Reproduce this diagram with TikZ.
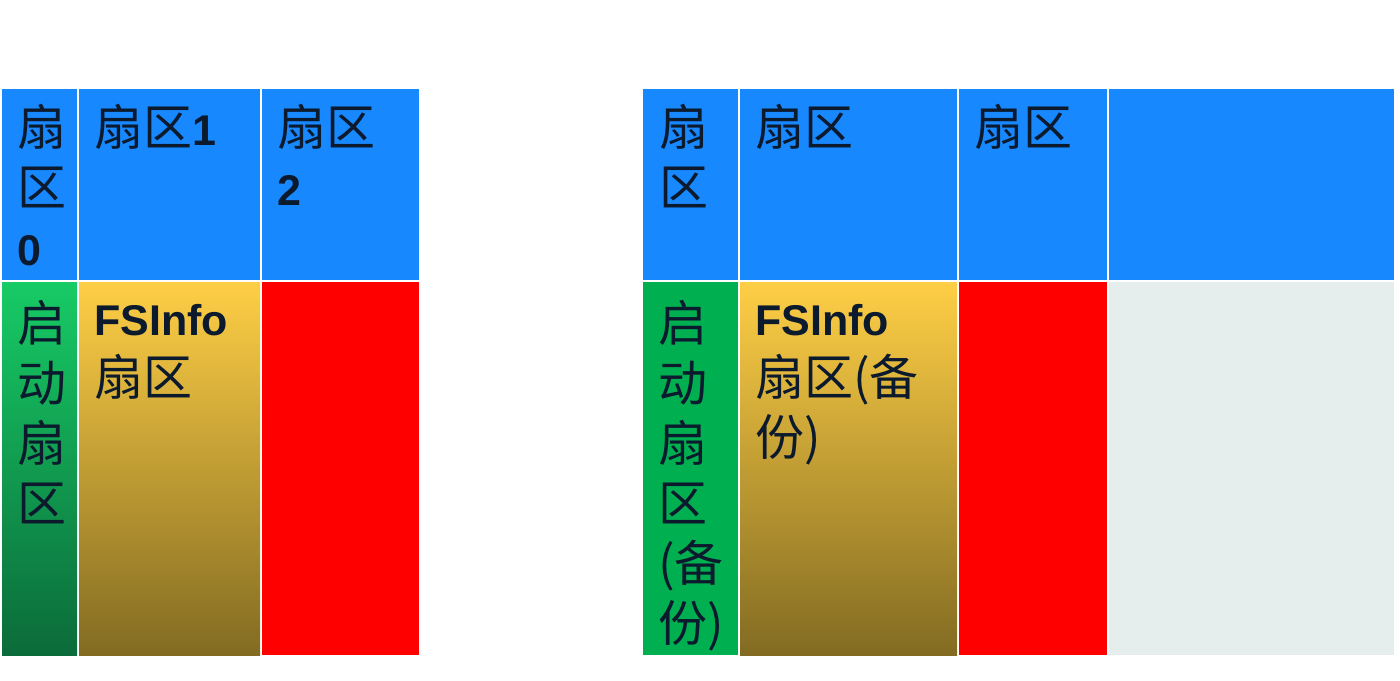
\documentclass[tikz,border=0pt]{standalone}
\usepackage{fontspec}
\setmainfont{Liberation Sans}
\newfontfamily\cjk{Noto Sans CJK SC}
\definecolor{hdrblue}{HTML}{1888FE}
\definecolor{ink}{HTML}{0C1A2E}
\definecolor{bootgreen}{HTML}{00B050}
\definecolor{bootgreentop}{HTML}{17CB65}
\definecolor{bootgreenbot}{HTML}{0B6B3A}
\definecolor{infotop}{HTML}{FECE45}
\definecolor{infomid}{HTML}{D2AA38}
\definecolor{infobot}{HTML}{826B22}
\definecolor{fatred}{HTML}{FF0000}
\definecolor{freegray}{HTML}{E6EEED}
% bold Latin run inside CJK text
\newcommand\latb[1]{{\fontspec{Liberation Sans}\fontsize{43}{60}\selectfont\bfseries #1}}
\begin{document}
\begin{tikzpicture}[x=1pt,y=-1pt,
  cell/.style={rectangle, inner sep=0pt, outer sep=0pt, anchor=north west, draw=none},
  hdr/.style={cell, fill=hdrblue, minimum height=191pt},
  body/.style={cell, minimum height=373pt},
  infograd/.style={top color=infotop, middle color=infomid, bottom color=infobot},
  lbl/.style={anchor=north west, inner sep=0pt, align=left, text=ink,
    font=\cjk\fontsize{49}{60}\selectfont}]
\useasboundingbox (0,0) rectangle (1400,680);

% ---- primary region: header row ----
\node[hdr, minimum width=75pt]  (h0) at (2,89)   {};
\node[hdr, minimum width=181pt] (h1) at (79,89)  {};
\node[hdr, minimum width=157pt] (h2) at (262,89) {};
% ---- primary region: content row ----
\node[body, minimum width=75pt, top color=bootgreentop, bottom color=bootgreenbot] (b0) at (2,282) {};
\node[body, minimum width=181pt, infograd] (b1) at (79,282) {};
\node[body, minimum width=157pt, fill=fatred] (b2) at (262,282) {};

% ---- backup region: header row ----
\node[hdr, minimum width=95pt]  (rh0) at (643,89)  {};
\node[hdr, minimum width=217pt] (rh1) at (740,89)  {};
\node[hdr, minimum width=148pt] (rh2) at (959,89)  {};
\node[hdr, minimum width=285pt] (rh3) at (1109,89) {};
% ---- backup region: content row ----
\node[body, minimum width=95pt, fill=bootgreen] (rb0) at (643,282) {};
\node[body, minimum width=217pt, infograd] (rb1) at (740,282) {};
\node[body, minimum width=148pt, fill=fatred] (rb2) at (959,282) {};
\node[body, minimum width=285pt, fill=freegray] (rb3) at (1109,282) {};

% ---- labels ----
\node[lbl] (t-h0) at ([xshift=15pt,yshift=-15pt]h0.north west) {扇\\区\\\latb{0}};
\node[lbl] (t-h1) at ([xshift=15pt,yshift=-15pt]h1.north west) {扇区\latb{1}};
\node[lbl] (t-h2) at ([xshift=15pt,yshift=-15pt]h2.north west) {扇区\\\latb{2}};
\node[lbl] (t-b0) at ([xshift=15pt,yshift=-18pt]b0.north west) {启\\动\\扇\\区};
\node[lbl] (t-b1) at ([xshift=15pt,yshift=-22pt]b1.north west) {\latb{FSInfo}\\扇区};

\node[lbl] (t-rh0) at ([xshift=16pt,yshift=-15pt]rh0.north west) {扇\\区};
\node[lbl] (t-rh1) at ([xshift=15pt,yshift=-15pt]rh1.north west) {扇区};
\node[lbl] (t-rh2) at ([xshift=15pt,yshift=-15pt]rh2.north west) {扇区};
\node[lbl] (t-rb0) at ([xshift=15pt,yshift=-18pt]rb0.north west) {启\\动\\扇\\区\\(备\\份)};
\node[lbl] (t-rb1) at ([xshift=15pt,yshift=-22pt]rb1.north west) {\latb{FSInfo}\\扇区(备\\份)};
\end{tikzpicture}
\end{document}
